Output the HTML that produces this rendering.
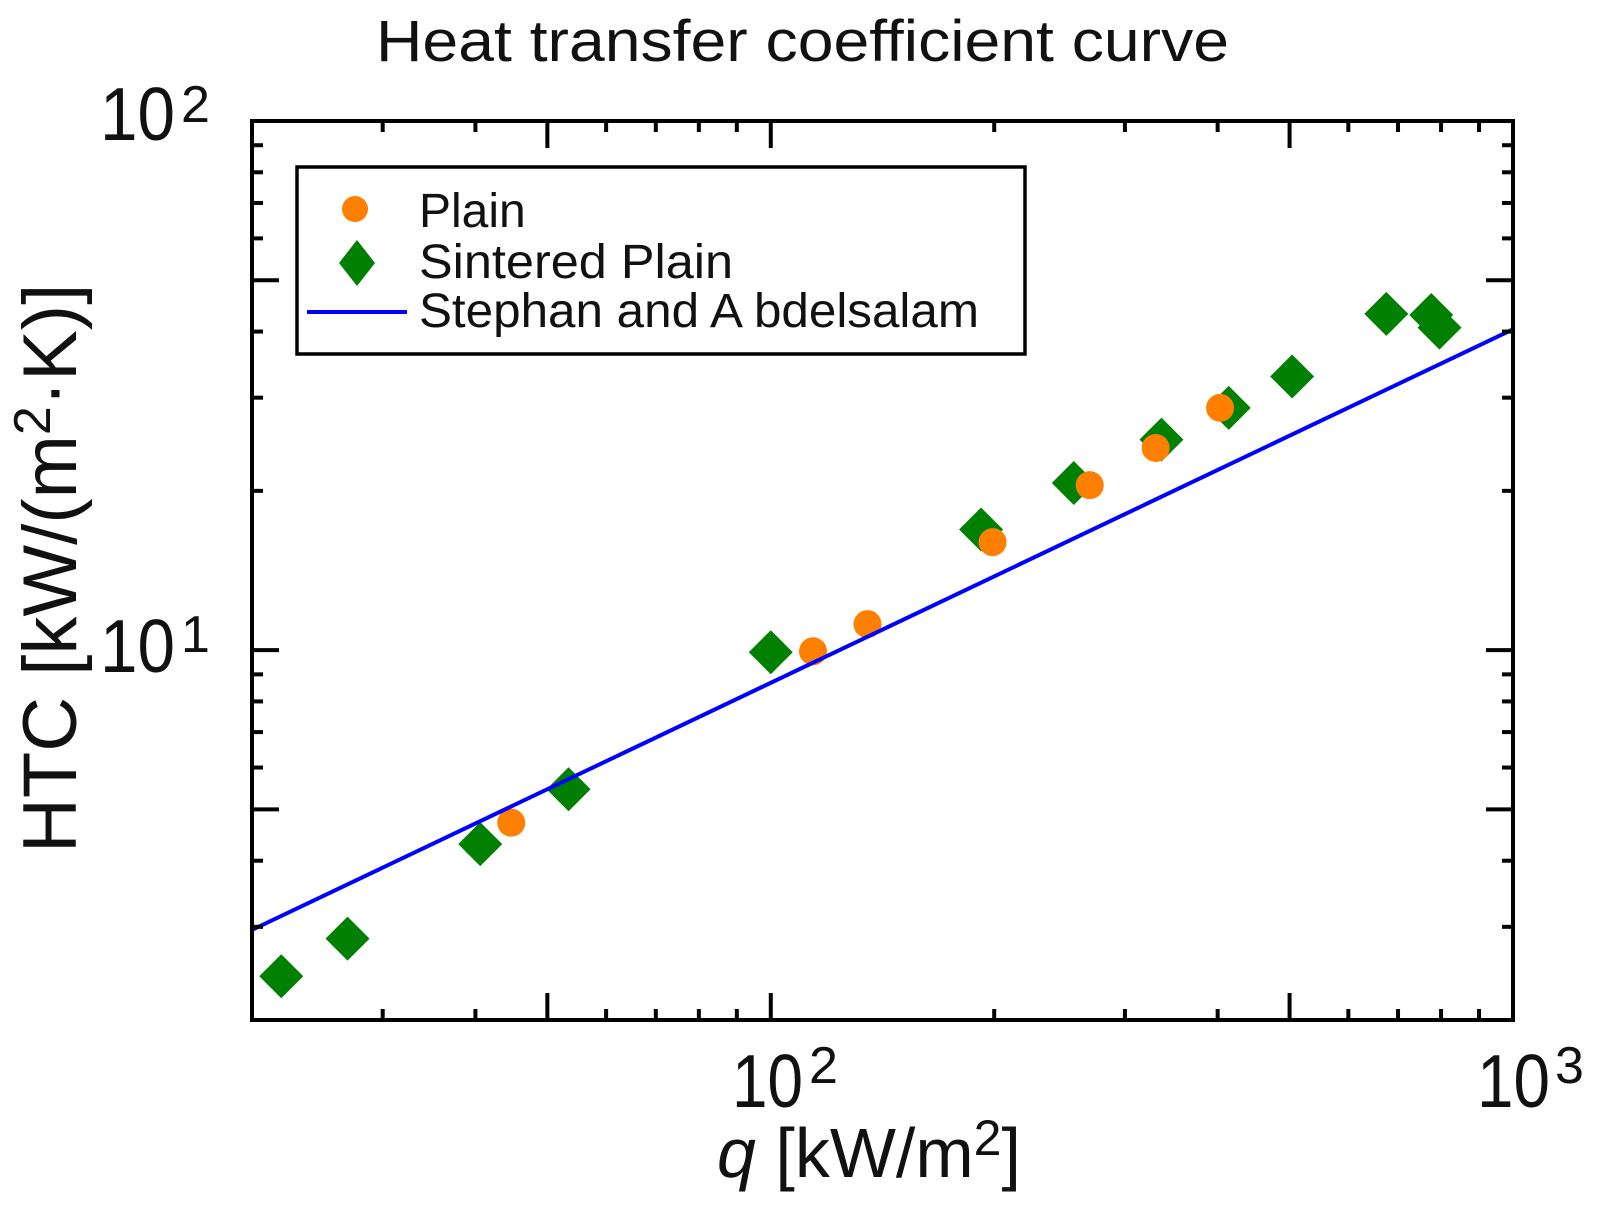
<!DOCTYPE html>
<html><head><meta charset="utf-8"><style>
html,body{margin:0;padding:0;background:#fff;}
svg{display:block;}
text{font-family:"Liberation Sans",sans-serif;fill:#111;}
</style></head><body>
<svg id="chart" width="1601" height="1220" viewBox="0 0 1601 1220" xmlns="http://www.w3.org/2000/svg">
<text x="376" y="61" font-size="58" textLength="853" lengthAdjust="spacingAndGlyphs">Heat transfer coefficient curve</text>
<g id="marks"></g>
<rect x="252" y="121" width="1261" height="899" fill="none" stroke="#000" stroke-width="4"/>
<g id="ticks"></g>
<text x="100" y="140" font-size="75" textLength="75" lengthAdjust="spacingAndGlyphs">10</text>
<text x="181" y="122" font-size="52">2</text>
<text x="100" y="672" font-size="75" textLength="75" lengthAdjust="spacingAndGlyphs">10</text>
<text x="181" y="652" font-size="52">1</text>
<text x="732" y="1107" font-size="75" textLength="71" lengthAdjust="spacingAndGlyphs">10</text>
<text x="809" y="1083" font-size="52">2</text>
<text x="1477" y="1107" font-size="75" textLength="73" lengthAdjust="spacingAndGlyphs">10</text>
<text x="1555" y="1083" font-size="52">3</text>
<text x="717" y="1177" font-size="70"><tspan font-style="italic">q</tspan> [kW/m<tspan font-size="50" dy="-22">2</tspan><tspan dy="22">]</tspan></text>
<text transform="translate(76,853) rotate(-90)" font-size="76">HTC [kW/(m<tspan font-size="52" dy="-26">2</tspan><tspan dy="26">·K)]</tspan></text>
<g>
<rect x="297" y="167" width="728" height="187" fill="#fff" stroke="#000" stroke-width="3.5"/>
<circle cx="355" cy="209" r="13" fill="#ff8000"/>
<polygon points="357,240 375,263 357,286 339,263" fill="#008000"/>
<line x1="307" y1="312" x2="407" y2="312" stroke="#0000ff" stroke-width="4"/>
<text x="419" y="227" font-size="48">Plain</text>
<text x="419" y="278" font-size="48" textLength="314" lengthAdjust="spacingAndGlyphs">Sintered Plain</text>
<text x="419" y="327" font-size="48" textLength="560" lengthAdjust="spacingAndGlyphs">Stephan and A bdelsalam</text>
</g>
</svg>
<script>
const sinteredQ=[21.9,26.9,40.6,53.4,100,192,256,336,414,504,675,776,796];
const sinteredH=[2.42,2.85,4.30,5.46,9.91,16.9,20.7,25.0,28.7,32.9,43.2,43.0,40.7];
const plainQ=[44.7,114,135,199,269,330,403];
const plainH=[4.72,9.95,11.2,16.0,20.5,24.1,28.7];
const lineQ=[20,1000];
const lineH=[2.96,40.4];
const xMinorTicks=[30,40,50,60,70,80,90,200,300,400,500,600,700,800,900];
const yMinorTicks=[3,4,5,6,7,8,9,20,30,40,50,60,70,80,90];
const xMajorTicks=[100];
const yMajorTicks=[10];

const X0=252,X1=1513,Y0=1020,Y1=121;
const xs=v=>X0+(Math.log10(v)-Math.log10(20))/(Math.log10(1000)-Math.log10(20))*(X1-X0);
const ys=v=>Y0-(Math.log10(v)-Math.log10(2))/(Math.log10(100)-Math.log10(2))*(Y0-Y1);
const NS="http://www.w3.org/2000/svg";
const marks=document.getElementById('marks');
const ticks=document.getElementById('ticks');
function mk(tag,attrs,parent){const e=document.createElementNS(NS,tag);for(const k in attrs)e.setAttribute(k,attrs[k]);parent.appendChild(e);return e;}

sinteredQ.forEach((q,i)=>{
  const cx=xs(q),cy=ys(sinteredH[i]);
  const p=mk('polygon',{points:`${cx},${cy-22} ${cx+22},${cy} ${cx},${cy+22} ${cx-22},${cy}`,fill:'#008000'},marks);
  
  
});
plainQ.forEach((q,i)=>{
  const c=mk('circle',{cx:xs(q),cy:ys(plainH[i]),r:14,fill:'#ff8000'},marks);
  
  
});
const ln=mk('line',{x1:xs(lineQ[0]),y1:ys(lineH[0]),x2:xs(lineQ[1]),y2:ys(lineH[1]),stroke:'#0000ff','stroke-width':4},marks);



function xt(v,len){
  const x=xs(v);
  const a=mk('line',{x1:x,y1:Y0,x2:x,y2:Y0-len,stroke:'#000','stroke-width':4},ticks);
  
  
  const b=mk('line',{x1:x,y1:Y1,x2:x,y2:Y1+len,stroke:'#000','stroke-width':4},ticks);
  
  
}
function yt(v,len){
  const y=ys(v);
  const a=mk('line',{x1:X0,y1:y,x2:X0+len,y2:y,stroke:'#000','stroke-width':4},ticks);
  
  
  const b=mk('line',{x1:X1,y1:y,x2:X1-len,y2:y,stroke:'#000','stroke-width':4},ticks);
  
  
}
xMinorTicks.forEach(v=>xt(v,(v===50||v===500)?27:11));
xMajorTicks.forEach(v=>xt(v,27));
yMinorTicks.forEach(v=>yt(v,(v===5||v===50)?27:11));
yMajorTicks.forEach(v=>yt(v,27));
</script>
</body></html>
